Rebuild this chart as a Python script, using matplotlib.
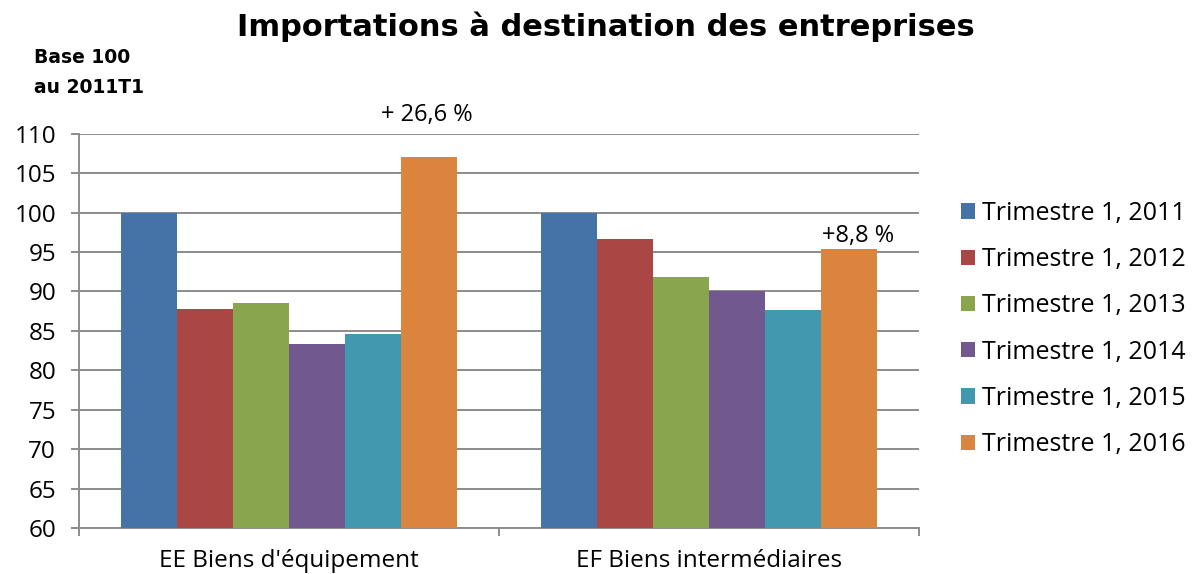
import matplotlib.pyplot as plt
import numpy as np

plt.rcParams['font.family'] = ['Open Sans', 'DejaVu Sans']

# Données (base 100 au 2011T1)
categories = ["EE Biens d'équipement", "EF Biens intermédiaires"]
series_labels = ['Trimestre 1, 2011', 'Trimestre 1, 2012', 'Trimestre 1, 2013',
                 'Trimestre 1, 2014', 'Trimestre 1, 2015', 'Trimestre 1, 2016']
valeurs_ee = [100, 87.8, 88.6, 83.3, 84.6, 107.0]
valeurs_ef = [100, 96.6, 91.8, 90.0, 87.6, 95.4]
annotations = ['+ 26,6 %', '+8,8 %']
yticks = [60, 65, 70, 75, 80, 85, 90, 95, 100, 105, 110]

COLORS = ['#4572A7', '#AA4643', '#89A54E', '#71588F', '#4198AF', '#DB843D']

fig = plt.figure(figsize=(11.97, 5.74), dpi=100)
ax = fig.add_axes([0.066, 0.080, 0.702, 0.687])

x = np.arange(len(categories))
n = len(series_labels)
width = 0.8 / n
data = np.array([valeurs_ee, valeurs_ef])

for i in range(n):
    offs = (i - (n - 1) / 2) * width
    ax.bar(x + offs, data[:, i], width, color=COLORS[i],
           label=series_labels[i], zorder=3)

# annotations au-dessus de la barre 2016
offs_last = (n - 1 - (n - 1) / 2) * width
ax.text(x[0] + offs_last - 0.005, 110.9, annotations[0], ha='center', va='bottom',
        fontsize=17, zorder=4, clip_on=False)
ax.text(x[1] + offs_last + 0.02, data[1, -1] + 0.05, annotations[1], ha='center',
        va='bottom', fontsize=17, zorder=4)

ax.set_ylim(60, 110)
ax.set_xlim(-0.5, 1.5)
ax.set_yticks(yticks)
ax.set_yticklabels([str(t) for t in yticks], fontsize=17.5)
ax.yaxis.grid(True, color='#8C8C8C', linewidth=1.4, zorder=0)
ax.set_axisbelow(True)

# graduations entre catégories, style tableur
ax.set_xticks([-0.5, 0.5, 1.5])
ax.set_xticklabels([])
ax.set_xticks(x, minor=True)
ax.set_xticklabels(categories, minor=True, fontsize=17.5)
ax.tick_params(axis='x', which='minor', length=0, pad=15)
ax.tick_params(axis='x', which='major', length=5.5, color='#8C8C8C', width=1.4)
ax.tick_params(axis='y', length=5.5, color='#8C8C8C', width=1.4, pad=11)

for s in ['top', 'right']:
    ax.spines[s].set_visible(False)
for s in ['left', 'bottom']:
    ax.spines[s].set_color('#8C8C8C')
    ax.spines[s].set_linewidth(1.4)

fig.text(0.506, 0.953, 'Importations à destination des entreprises', ha='center',
         va='center', fontsize=22, fontweight='bold', family='DejaVu Sans')
fig.text(0.028, 0.899, 'Base 100', ha='left', va='center', fontsize=13.5,
         fontweight='bold', family='DejaVu Sans')
fig.text(0.028, 0.848, 'au 2011T1', ha='left', va='center', fontsize=13.5,
         fontweight='bold', family='DejaVu Sans')

fig.legend(loc='center left', bbox_to_anchor=(0.803, 0.427), frameon=False,
           fontsize=18, handlelength=0.56, handleheight=0.56, handletextpad=0.28,
           labelspacing=0.85, borderpad=0, borderaxespad=0)

plt.savefig('out.png', dpi=100, facecolor='white')
plt.close()
